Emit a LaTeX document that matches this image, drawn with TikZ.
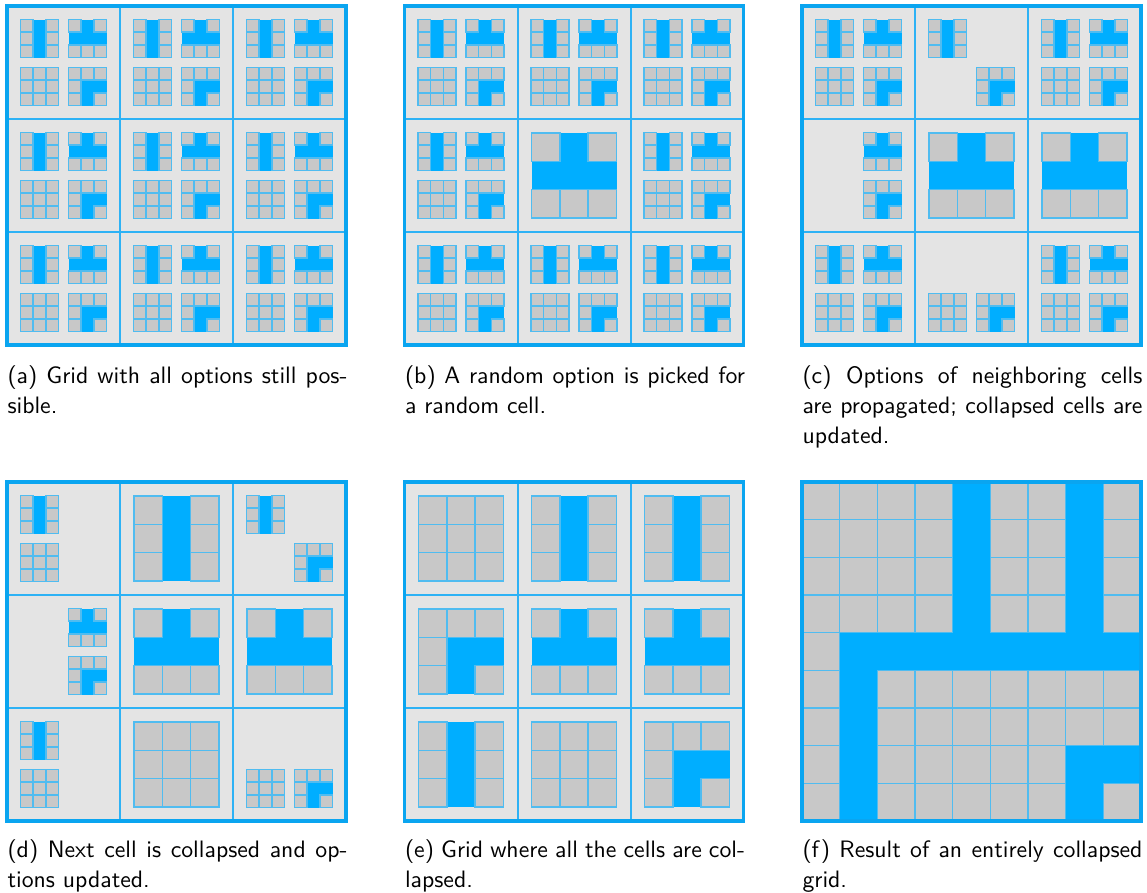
\documentclass[tikz,border=0pt]{standalone}

\definecolor{wfcblue}{RGB}{0,174,255}
\definecolor{cellgray}{RGB}{228,228,228}
\definecolor{tilegray}{RGB}{200,200,200}
\definecolor{lineblue}{RGB}{80,188,240}
\definecolor{gridblue}{RGB}{45,178,245}
\definecolor{edgeblue}{RGB}{10,165,240}

% gray sub-squares of each option (column/row, row 0 on top)
\def\optV{0/0,0/1,0/2,2/0,2/1,2/2}
\def\optT{0/0,2/0,0/2,1/2,2/2}
\def\optE{0/0,1/0,2/0,0/1,1/1,2/1,0/2,1/2,2/2}
\def\optL{0/0,1/0,2/0,0/1,0/2,2/2}
% collapsed grid of (e) and (f)
\def\finalgrid{0/0/\optE,1/0/\optV,2/0/\optV,0/1/\optL,1/1/\optT,2/1/\optT,0/2/\optV,1/2/\optE,2/2/\optL}

\begin{document}
\begin{tikzpicture}[
  x=0.4pt, y=-0.4pt,
  font=\sffamily\fontsize{9.5}{12}\selectfont,
  cellbox/.style={fill=cellgray, draw=gridblue, line width=0.8pt},
  panelbox/.style={draw=edgeblue, line width=1.3pt},
  sq/.style={fill=tilegray, draw=lineblue, line width=0.55pt},
  captext/.style={anchor=base west, inner sep=0pt, text width=136pt, align=justify},
  pics/opt/.style 2 args={code={
    \edef\graylist{#2}
    \fill[wfcblue] (0,0) rectangle (3*#1,3*#1);
    \foreach \cx/\cy in \graylist {\draw[sq] (\cx*#1,\cy*#1) rectangle ++(#1,#1);}
  }},
  pics/small/.style={opt={12.667}{#1}},
  pics/big/.style={opt={28.333}{#1}},
  pics/allopt/.style={code={
    \pic at (13.5,13.5) {small=\optV};
    \pic at (61.5,13.5) {small=\optT};
    \pic at (13.5,61.5) {small=\optE};
    \pic at (61.5,61.5) {small=\optL};
  }},
]
\useasboundingbox (0,0) rectangle (1147,893);

%% ===== (a) ALL OPTIONS =====
\begin{scope}[shift={(7,6)}]
  \foreach \i in {0,1,2} \foreach \j in {0,1,2} {
    \draw[cellbox] (113*\i,113*\j) rectangle ++(113,113);
    \pic at (113*\i,113*\j) {allopt};
  }
  \draw[panelbox] (0,0) rectangle (339,339);
\end{scope}
\node[captext] (capa) at (7,383) {(a) Grid with all options still pos-\linebreak sible.};

%% ===== (b) FIRST PICK =====
\begin{scope}[shift={(404.5,6)}]
  \foreach \i in {0,1,2} \foreach \j in {0,1,2}
    \draw[cellbox] (113*\i,113*\j) rectangle ++(113,113);
  \foreach \i/\j in {0/0,1/0,2/0,0/1,2/1,0/2,1/2,2/2}
    \pic at (113*\i,113*\j) {allopt};
  \pic at (127,127) {big=\optT};
  \draw[panelbox] (0,0) rectangle (339,339);
\end{scope}
\node[captext] (capb) at (404.5,383) {(b) A random option is picked for\linebreak a random cell.};

%% ===== (c) PROPAGATION =====
\begin{scope}[shift={(802,6)}]
  \foreach \i in {0,1,2} \foreach \j in {0,1,2}
    \draw[cellbox] (113*\i,113*\j) rectangle ++(113,113);
  \foreach \i/\j in {0/0,2/0,0/2,2/2}
    \pic at (113*\i,113*\j) {allopt};
  \pic at (126.5,13.5) {small=\optV};
  \pic at (174.5,61.5) {small=\optL};
  \pic at (61.5,126.5) {small=\optT};
  \pic at (61.5,174.5) {small=\optL};
  \pic at (127,127) {big=\optT};
  \pic at (240,127) {big=\optT};
  \pic at (126.5,287.5) {small=\optE};
  \pic at (174.5,287.5) {small=\optL};
  \draw[panelbox] (0,0) rectangle (339,339);
\end{scope}
\node[captext] (capc) at (802,383) {(c) Options of neighboring cells\linebreak are propagated; collapsed cells are\linebreak updated.};

%% ===== (d) NEXT COLLAPSE =====
\begin{scope}[shift={(7,482)}]
  \foreach \i in {0,1,2} \foreach \j in {0,1,2}
    \draw[cellbox] (113*\i,113*\j) rectangle ++(113,113);
  \pic at (13.5,13.5) {small=\optV};
  \pic at (13.5,61.5) {small=\optE};
  \pic at (127,14) {big=\optV};
  \pic at (239.5,13.5) {small=\optV};
  \pic at (287.5,61.5) {small=\optL};
  \pic at (61.5,126.5) {small=\optT};
  \pic at (61.5,174.5) {small=\optL};
  \pic at (127,127) {big=\optT};
  \pic at (240,127) {big=\optT};
  \pic at (13.5,239.5) {small=\optV};
  \pic at (13.5,287.5) {small=\optE};
  \pic at (127,240) {big=\optE};
  \pic at (239.5,287.5) {small=\optE};
  \pic at (287.5,287.5) {small=\optL};
  \draw[panelbox] (0,0) rectangle (339,339);
\end{scope}
\node[captext] (capd) at (7,857) {(d) Next cell is collapsed and op-\linebreak tions updated.};

%% ===== (e) ALL COLLAPSED =====
\begin{scope}[shift={(404.5,482)}]
  \foreach \i in {0,1,2} \foreach \j in {0,1,2}
    \draw[cellbox] (113*\i,113*\j) rectangle ++(113,113);
  \foreach \i/\j/\kind in \finalgrid
    \pic at (113*\i+14,113*\j+14) {big=\kind};
  \draw[panelbox] (0,0) rectangle (339,339);
\end{scope}
\node[captext] (cape) at (404.5,857) {(e) Grid where all the cells are col-\linebreak lapsed.};

%% ===== (f) RESULT =====
\begin{scope}[shift={(802,482)}]
  \foreach \i/\j/\kind in \finalgrid
    \pic at (113*\i,113*\j) {opt={37.667}{\kind}};
  \draw[panelbox] (0,0) rectangle (339,339);
\end{scope}
\node[captext] (capf) at (802,857) {(f) Result of an entirely collapsed\linebreak grid.};

\end{tikzpicture}
\end{document}
